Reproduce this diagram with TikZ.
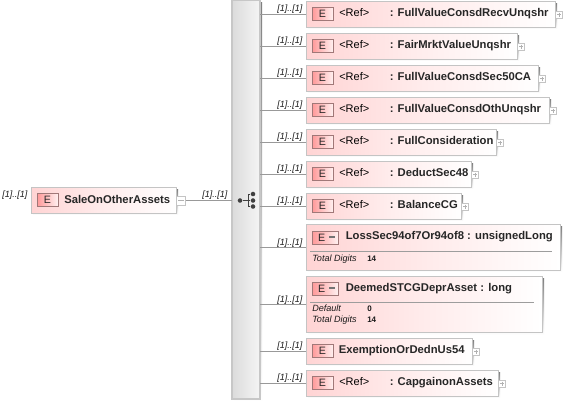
\documentclass[tikz,border=0pt]{standalone}
\usepackage{fontspec}
\setmainfont{Liberation Sans}
\usetikzlibrary{positioning}
\definecolor{boxedge}{HTML}{C4C4C4}
\definecolor{pinkl}{HTML}{FFD4D4}
\definecolor{badgeedge}{HTML}{A07878}
\definecolor{wire}{HTML}{999999}
\definecolor{shade}{HTML}{DADADA}
\tikzset{
  x=0.75pt,y=-0.75pt,
  elembox/.style={draw=boxedge,line width=0.7pt,left color=pinkl,right color=white,middle color=pinkl!45!white,
    anchor=north west,inner sep=0pt,outer sep=0pt,minimum height=19.5pt},
  badgebox/.style={draw=badgeedge,line width=0.5pt,left color=red!40!white,right color=red!6!white,
    anchor=north west,inner sep=0pt,outer sep=0pt,minimum width=15.75pt,minimum height=9.75pt,font=\fontsize{8}{8}\selectfont,text=black!85},
  simplebadge/.style={badgebox,minimum width=19.5pt},
  elemtext/.style={anchor=base west,inner sep=0pt,font=\fontsize{8.45}{10}\selectfont\bfseries,text=black!85},
  reftext/.style={anchor=base west,inner sep=0pt,font=\fontsize{8.25}{10}\selectfont,text=black},
  multi/.style={anchor=base west,inner sep=0pt,font=\fontsize{6.8}{8}\selectfont\itshape,text=black!90},
  facet/.style={anchor=base west,inner sep=0pt,font=\fontsize{6.8}{8}\selectfont\itshape,text=black!90},
  facetval/.style={anchor=base west,inner sep=0pt,font=\fontsize{6}{8}\selectfont\bfseries,text=black!90},
  expander/.style={draw=boxedge,fill=white,line width=0.5pt,anchor=center,inner sep=0pt,outer sep=0pt,minimum size=5.2pt},
  rootexpander/.style={expander,minimum size=7pt},
  wireline/.style={draw=wire,line width=0.6pt},
  sym/.style={draw=black!75,line width=0.75pt},
  dot/.style={circle,fill=black!75,inner sep=0pt,minimum size=3.4pt},
  sign/.style={draw=black!30,line width=0.4pt},
  dashmark/.style={draw=black!55,line width=1.1pt},
}
\newcommand{\elem}[5]{%
  \fill[shade] (#2+2,#3+2) rectangle (#4+2,#5+2);
  \node[elembox,minimum width={(#4-#2)*0.75pt}] (#1) at (#2,#3) {};
}
\begin{document}
\begin{tikzpicture}
\useasboundingbox (0,0) rectangle (565,404);
\fill[white] (0,0) rectangle (565,404);
% sequence bar
\fill[shade] (234,2) rectangle (262,402);
\node[draw=black!22,line width=0.8pt,left color=black!14,right color=black!4,anchor=north west,inner sep=0pt,outer sep=0pt,minimum width=21pt,minimum height=299.25pt] (seq) at (232,0) {};
% root
\elem{root}{31}{187}{176}{213}
\node[badgebox] (rootb) at (37,193) {E};
\node[elemtext] (roott) at (64,203) {SaleOnOtherAssets};
\node[multi] (rootm) at (2,197) {[1]..[1]};
\node[rootexpander] (rootx) at (181,200.5) {};
\draw[sign] (178,200.5) -- (184,200.5);
\node[multi] (seqm) at (202,197) {[1]..[1]};
\draw[wireline] (rootx.east) -- (seq.west |- rootx.east);
% sequence symbol
\node[dot] (d0) at (240,200.5) {};
\node[dot] (d1) at (253,194) {};
\node[dot] (d2) at (253,200.5) {};
\node[dot] (d3) at (253,206.5) {};
\draw[sym] (d0) -- (d2);
\draw[sym] (d1) -- (248,194) -- (248,206.5) -- (d3);
% ref boxes
\newcommand{\refrow}[4]{%
  \elem{#1}{306}{#2}{#3}{#2+26}
  \node[badgebox] (#1b) at (312,#2+6.5) {E};
  \node[reftext] (#1r) at (339,#2+15) {<Ref>};
  \node[elemtext] (#1t) at (389.5,#2+15) {: #4};
  \node[multi] (#1m) at (277,#2+10) {[1]..[1]};
  \node[expander] (#1x) at (#3+4,#2+13.5) {};
  \draw[sign] (#3+2,#2+13.5) -- (#3+6,#2+13.5);
  \draw[sign] (#3+4,#2+11.5) -- (#3+4,#2+15.5);
  \draw[wireline] (seq.east |- 0,#2+13.5) -- (#1.west |- 0,#2+13.5);
}
\refrow{a}{1}{555}{FullValueConsdRecvUnqshr}
\refrow{b}{33}{517}{FairMrktValueUnqshr}
\refrow{c}{65}{538}{FullValueConsdSec50CA}
\refrow{d}{97}{549}{FullValueConsdOthUnqshr}
\refrow{e}{129}{496}{FullConsideration}
\refrow{f}{161}{471}{DeductSec48}
\refrow{g}{193}{461}{BalanceCG}
\refrow{k}{370}{498}{CapgainonAssets}
% plain element
\elem{j}{306}{338}{472}{364}
\node[badgebox] (jb) at (312,344.5) {E};
\node[elemtext] (jt) at (338.5,353) {ExemptionOrDednUs54};
\node[multi] (jm) at (277,348) {[1]..[1]};
\node[expander] (jx) at (476,351.5) {};
\draw[sign] (474,351.5) -- (478,351.5);
\draw[sign] (476,349.5) -- (476,353.5);
\draw[wireline] (seq.east |- 0,351.5) -- (j.west |- 0,351.5);
% simple type elements
\fill[shade] (308,226) rectangle (562,272);
\node[elembox,minimum width=190.5pt,minimum height=34.5pt] (h) at (306,224) {};
\node[simplebadge] (hb) at (312,231) {\hspace{-5pt}E};
\draw[dashmark] (329,237) -- (335,237);
\node[elemtext] (ht) at (345.5,239) {LossSec94of7Or94of8 : unsignedLong};
\coordinate (hl) at (310,251);
\coordinate (hr) at (552,251);
\draw[draw=boxedge!80!black,line width=0.5pt] (hl) -- (hr);
\node[facet] (hf) at (312,261) {Total Digits};
\node[facetval] (hv) at (367,261) {14};
\node[multi] (hm) at (277,245) {[1]..[1]};
\draw[wireline] (seq.east |- 0,247) -- (h.west |- 0,247);
\fill[shade] (308,278) rectangle (544,335);
\node[elembox,minimum width=177pt,minimum height=42.5pt] (i) at (306,276) {};
\node[simplebadge] (ib) at (312,282) {\hspace{-5pt}E};
\draw[dashmark] (329,288) -- (335,288);
\node[elemtext] (it) at (345.5,291) {DeemedSTCGDeprAsset : long};
\coordinate (il) at (310,302);
\coordinate (ir) at (534,302);
\draw[draw=boxedge!80!black,line width=0.5pt] (il) -- (ir);
\node[facet] (if) at (312,311) {Default};
\node[facetval] (iv) at (367,311) {0};
\node[facet] (ig) at (312,322) {Total Digits};
\node[facetval] (iw) at (367,322) {14};
\node[multi] (im) at (277,302) {[1]..[1]};
\draw[wireline] (seq.east |- 0,304) -- (i.west |- 0,304);
\end{tikzpicture}
\end{document}
